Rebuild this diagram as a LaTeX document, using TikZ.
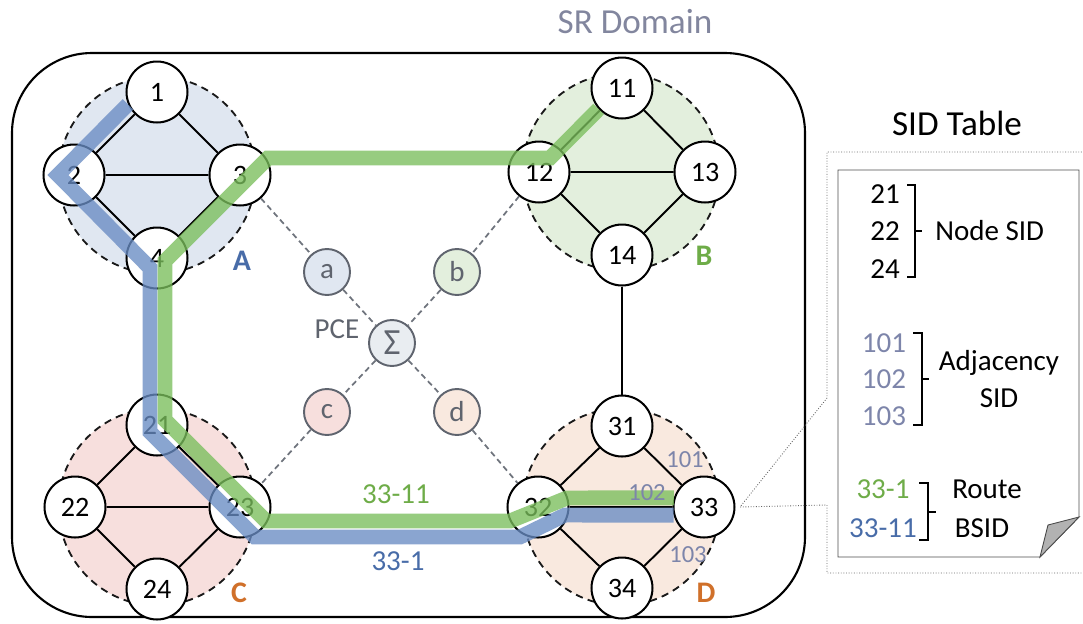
\documentclass[tikz,border=0pt]{standalone}
\usepackage{fontspec}
\setmainfont{Carlito}
\usetikzlibrary{positioning}

\definecolor{areaA}{RGB}{224,231,241}
\definecolor{areaB}{RGB}{227,239,221}
\definecolor{areaC}{RGB}{247,223,221}
\definecolor{areaD}{RGB}{249,233,223}
\definecolor{ctrlfill}{RGB}{233,237,241}
\definecolor{pcegray}{RGB}{95,100,110}
\definecolor{sidgray}{RGB}{125,133,170}
\definecolor{domaingray}{RGB}{130,134,158}
\definecolor{labelblue}{RGB}{72,108,168}
\definecolor{labelgreen}{RGB}{110,172,72}
\definecolor{labelorange}{RGB}{208,112,42}
\definecolor{routeblue}{RGB}{105,140,195}
\definecolor{routegreen}{RGB}{122,190,92}

\begin{document}
\begin{tikzpicture}[
        x=0.02cm, y=-0.02cm,
        router/.style={
                circle,
                draw=black,
                fill=white,
                line width=1.15pt,
                minimum size=1.22cm,
                inner sep=0pt,
                font=\fontsize{16}{18}\selectfont
            },
        area/.style={
                circle,
                draw=black!90,
                dash pattern=on 4.2pt off 3pt,
                line width=1.05pt,
                minimum size=3.94cm
            },
        ctrl/.style={
                circle,
                draw=pcegray,
                line width=1.1pt,
                minimum size=0.92cm,
                inner sep=0pt,
                text=pcegray,
                font=\fontsize{16.5}{18}\selectfont
            },
        link/.style={draw=black, line width=1.1pt},
        ctrllink/.style={draw=pcegray!90, dash pattern=on 3.2pt off 2.2pt, line width=1pt},
        route/.style={line width=8.5pt, opacity=0.78},
        areaname/.style={anchor=base, font=\fontsize{17}{18}\selectfont\bfseries},
        adjsid/.style={anchor=base, text=sidgray, font=\fontsize{14}{16}\selectfont},
        txt/.style={anchor=base, inner sep=0pt, font=\fontsize{16.5}{18}\selectfont},
        title/.style={anchor=base, inner sep=0pt, font=\fontsize{20}{22}\selectfont}
    ]
    \useasboundingbox (0,0) rectangle (1083,623);

    % SR domain
    \draw[line width=1.2pt, rounded corners=1.6cm] (12,53) rectangle (805,617);
    \node[title, text=domaingray] (domain) at (635,33) {SR Domain};

    % areas
    \node[area, fill=areaA] (areaA) at (157,175) {};
    \node[area, fill=areaB] (areaB) at (621,172) {};
    \node[area, fill=areaC] (areaC) at (157,507) {};
    \node[area, fill=areaD] (areaD) at (621,507) {};

    % routers
    \node[router] (n1) at (157,92) {1};
    \node[router] (n2) at (74,175) {2};
    \node[router] (n3) at (240,175) {3};
    \node[router] (n4) at (157,258) {4};
    \node[router] (n11) at (622,88) {11};
    \node[router] (n12) at (539,172) {12};
    \node[router] (n13) at (705,172) {13};
    \node[router] (n14) at (622,255) {14};
    \node[router] (n21) at (157,425) {21};
    \node[router] (n22) at (75,507) {22};
    \node[router] (n23) at (240,507) {23};
    \node[router] (n24) at (157,589) {24};
    \node[router] (n31) at (622,426) {31};
    \node[router] (n32) at (538,507) {32};
    \node[router] (n33) at (704,507) {33};
    \node[router] (n34) at (622,588) {34};

    \path[link] (n1) -- (n2) (n1) -- (n3) (n2) -- (n3) (n2) -- (n4) (n3) -- (n4);
    \path[link] (n11) -- (n12) (n11) -- (n13) (n12) -- (n13) (n12) -- (n14) (n13) -- (n14);
    \path[link] (n21) -- (n22) (n21) -- (n23) (n22) -- (n23) (n22) -- (n24) (n23) -- (n24);
    \path[link] (n31) -- (n32) (n31) -- (n33) (n32) -- (n33) (n32) -- (n34) (n33) -- (n34);
    \path[link] (n14) -- (n31);

    % PCE
    \node[ctrl, fill=areaA] (ca) at (327,272) {a};
    \node[ctrl, fill=areaB] (cb) at (457,272) {b};
    \node[ctrl, fill=ctrlfill, font=\fontsize{21}{22}\selectfont] (pce) at (392,343) {Σ};
    \node[ctrl, fill=areaC] (cc) at (327,412) {c};
    \node[ctrl, fill=areaD] (cd) at (457,412) {d};
    \node[txt, text=pcegray] (pcename) at (337,338) {PCE};

    \path[ctrllink] (n3) -- (ca) (ca) -- (pce) (pce) -- (cd) (cd) -- (n32);
    \path[ctrllink] (n12) -- (cb) (cb) -- (pce) (pce) -- (cc) (cc) -- (n23);

    % routes
    \draw[route, draw=routeblue] (n1.203) -- (58,175) -- (150,268) -- (150,432) -- (255,537) -- (520,537) -- (565,515) -- (n33.195);
    \draw[route, draw=routegreen] (n11.222) -- (550,158) -- (268,158) -- (165,261) -- (165,420) -- (266,521) -- (510,521) -- (567,498) -- (n33.163);

    % labels
    \node[areaname, text=labelblue] (nameA) at (242,270) {A};
    \node[areaname, text=labelgreen] (nameB) at (704,265) {B};
    \node[areaname, text=labelorange] (nameC) at (239,602) {C};
    \node[areaname, text=labelorange] (nameD) at (706,602) {D};
    \node[txt, text=labelgreen] (bsidgreen) at (396,503) {33-11};
    \node[txt, text=labelblue] (bsidblue) at (398,570) {33-1};
    \node[adjsid] (adj1) at (685,467) {101};
    \node[adjsid] (adj2) at (647,500) {102};
    \node[adjsid] (adj3) at (688,562) {103};

    % SID table
    \node[title] (tabletitle) at (957,135) {SID Table};
    \draw[densely dotted, line width=0.5pt, black!60] (1095,152) -- (827,152) -- (827,398) -- (740,507) -- (827,505) -- (827,573) -- (1095,573);
    \draw[line width=0.5pt, black!70] (838,170) -- (1079,170) -- (1079,517) -- (1040,557) -- (838,557) -- cycle;
    \draw[line width=0.5pt, black!70, fill=black!30] (1079,517) -- (1040,557) -- (1048,525) -- cycle;

    \node[txt] (s21) at (885,203) {21};
    \node[txt] (s22) at (885,240) {22};
    \node[txt] (s24) at (885,278) {24};
    \draw[line width=1pt] (907,185) -- (915,185) -- (915,277) -- (907,277) (915,231) -- (922,231);
    \node[txt, anchor=base west] (nodesid) at (935,240) {Node SID};

    \node[txt, text=sidgray] (s101) at (884,352) {101};
    \node[txt, text=sidgray] (s102) at (884,388) {102};
    \node[txt, text=sidgray] (s103) at (884,425) {103};
    \draw[line width=1pt] (913,333) -- (922,333) -- (922,425) -- (913,425) (922,379) -- (929,379);
    \node[txt] (adjname) at (999,370) {Adjacency};
    \node[txt] (adjsidname) at (999,407) {SID};

    \node[txt, text=labelgreen] (r1) at (883,498) {33-1};
    \node[txt, text=labelblue] (r2) at (883,537) {33-11};
    \draw[line width=1pt] (919,483) -- (928,483) -- (928,540) -- (919,540) (928,512) -- (936,512);
    \node[txt] (routename) at (987,498) {Route};
    \node[txt] (bsidname) at (982,537) {BSID};
\end{tikzpicture}
\end{document}
